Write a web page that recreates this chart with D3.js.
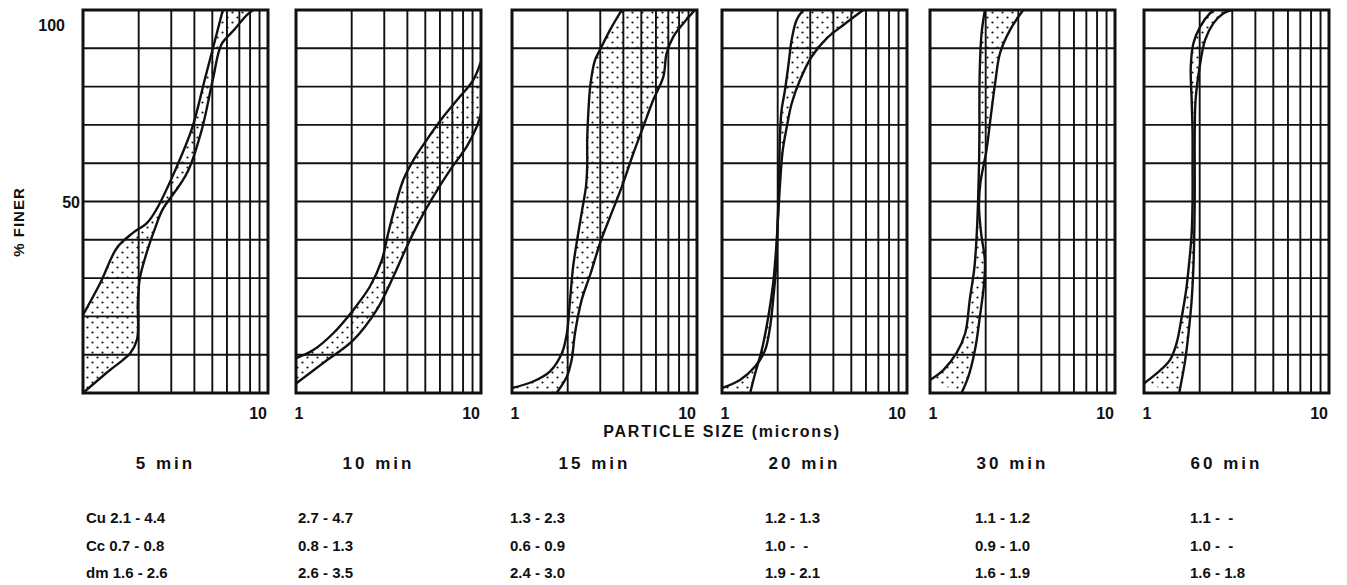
<!DOCTYPE html>
<html>
<head>
<meta charset="utf-8">
<script src="https://cdn.jsdelivr.net/npm/d3@7"></script>
<style>
body { margin: 0; background: #fff; }
text { font-family: "Liberation Sans", Arial, sans-serif; font-weight: bold; fill: #111; white-space: pre; }
</style>
</head>
<body>
<svg width="1347" height="585"></svg>
<script>
// panel titles (sedimentation time)
var titles = ["5 min", "10 min", "15 min", "20 min", "30 min", "60 min"];

// band limits, [particle size (microns), % finer], read bottom to top
var fine5  = [[1,20.4],[1.24,28.7],[1.53,38],[1.86,41.8],[2.22,44.4],[2.5,48],[3.14,58],[3.88,69],[4.56,82],[5.1,91],[5.7,100]];
var coarse5 = [[1,0],[1.4,6],[1.64,8.6],[1.8,10.4],[1.96,14],[1.98,24],[2.03,30],[2.22,37],[2.45,43],[2.7,48],[3.3,54],[3.7,58],[4.4,69],[5.04,82],[5.6,91],[6.47,94.5],[7.7,98.7],[8.3,100]];

var fine10 = [[1,9.1],[1.24,11.2],[1.59,15.6],[2.04,21.7],[2.51,27.8],[2.91,34.7],[3.15,41.7],[3.43,48.6],[3.8,55.6],[4.31,60.8],[5.09,66.1],[6.25,72.1],[7.7,77.4],[9.08,81.7],[10,86.5]];
var coarse10 = [[1,2.5],[1.4,7.8],[2.04,13.8],[2.73,21.7],[3.36,30.4],[3.97,38.2],[4.68,45.2],[5.52,51.3],[6.8,58.2],[8.37,64.3],[9.48,69.5],[10,73]];

var fine15 = [[1,1.3],[1.3,3],[1.6,5.6],[1.86,10.4],[1.98,15.6],[2.06,24.3],[2.14,33],[2.28,41.7],[2.41,48.6],[2.51,53.8],[2.55,59.1],[2.55,66.1],[2.59,73.9],[2.66,80.9],[2.81,86.9],[2.99,89.6],[3.39,94.8],[3.92,100]];
var coarse15 = [[1.74,0],[1.98,4.3],[2.1,8.6],[2.19,15.6],[2.38,24.3],[2.66,31.2],[2.99,39.1],[3.39,46],[3.92,53.8],[4.53,62.6],[5.12,69.5],[5.8,76.5],[6.58,82.6],[6.85,88.7],[7.44,93],[8.43,96.5],[9.75,100]];

var fine20 = [[1,1.3],[1.25,3.4],[1.51,6.9],[1.71,11.2],[1.82,17.3],[1.89,24.3],[1.96,33],[1.99,41.7],[2.02,50.4],[2.04,59.1],[2.06,67.8],[2.1,73.9],[2.19,79.1],[2.28,85.2],[2.38,92.2],[2.53,97.4],[2.75,100]];
var coarse20 = [[1.42,0],[1.51,5.1],[1.64,11.2],[1.78,19.9],[1.89,28.6],[1.96,37.4],[2.01,46],[2.06,54.7],[2.13,63.4],[2.24,69.5],[2.38,75.6],[2.64,81.7],[3.05,87.8],[3.68,92.6],[4.53,96.1],[5.8,100]];

var fine30 = [[1,3.4],[1.18,6],[1.39,10.4],[1.55,15.6],[1.64,24.3],[1.74,33],[1.79,41.7],[1.82,50.4],[1.84,59.1],[1.85,67.8],[1.85,76.5],[1.86,85.2],[1.9,93.9],[1.98,100]];
var coarse30 = [[1.48,0],[1.61,4.2],[1.75,11.2],[1.86,19.9],[1.96,28.6],[1.98,34.7],[1.89,41.7],[1.84,48.6],[1.87,54.7],[2.02,63.4],[2.13,72.2],[2.25,80.9],[2.39,88.7],[2.71,94.8],[3.19,100]];

var fine60 = [[1,2.5],[1.17,5.1],[1.38,8.6],[1.5,13],[1.6,19.9],[1.69,26.9],[1.76,34.7],[1.81,41.7],[1.83,50.4],[1.83,59.1],[1.83,67.8],[1.81,76.5],[1.79,85.2],[1.85,91.3],[2.01,95.6],[2.27,99.1],[2.4,100]];
var coarse60 = [[1.55,0],[1.67,8.6],[1.74,15.6],[1.81,24.3],[1.85,33],[1.87,41.7],[1.88,50.4],[1.88,59.1],[1.88,67.8],[1.9,76.5],[2.0,85.2],[2.14,92.2],[2.37,96.5],[2.68,99.1],[2.98,100]];

// statistics under each panel
var rowNames = ["Cu", "Cc", "dm"];
var cuLow  = [2.1, 2.7, 1.3, 1.2, 1.1, 1.1];
var cuHigh = [4.4, 4.7, 2.3, 1.3, 1.2, null];
var ccLow  = [0.7, 0.8, 0.6, 1.0, 0.9, 1.0];
var ccHigh = [0.8, 1.3, 0.9, null, 1.0, null];
var dmLow  = [1.6, 2.6, 2.4, 1.9, 1.6, 1.6];
var dmHigh = [2.6, 3.5, 3.0, 2.1, 1.9, 1.8];

var gridSizes = [2, 3, 4, 5, 6, 7, 8, 9];
var gridPct = [10, 20, 30, 40, 50, 60, 70, 80, 90];

var panels = [
  {title: titles[0], fine: fine5, coarse: coarse5},
  {title: titles[1], fine: fine10, coarse: coarse10},
  {title: titles[2], fine: fine15, coarse: coarse15},
  {title: titles[3], fine: fine20, coarse: coarse20},
  {title: titles[4], fine: fine30, coarse: coarse30},
  {title: titles[5], fine: fine60, coarse: coarse60}
];

// layout
var panelLeft = [83, 296, 512, 722, 930, 1144];
var statOffset = [3, 2, -2, 43, 45, 46];
var panelW = 185, plotTop = 10, plotBottom = 393;

var svg = d3.select("svg");

// stipple
var pat = svg.append("defs").append("pattern")
  .attr("id", "dots").attr("patternUnits", "userSpaceOnUse")
  .attr("width", 10).attr("height", 10);
pat.append("circle").attr("cx", 2.5).attr("cy", 2.5).attr("r", 1.1).attr("fill", "#111");
pat.append("circle").attr("cx", 7.5).attr("cy", 7.5).attr("r", 1.1).attr("fill", "#111");

var y = d3.scaleLinear().domain([0, 100]).range([plotBottom, plotTop]);

function fmt(lo, hi) {
  return lo.toFixed(1) + " - " + (hi == null ? " -" : hi.toFixed(1));
}

panels.forEach(function (p, i) {
  var x0 = panelLeft[i];
  var x = d3.scaleLog().domain([1, 10]).range([x0, x0 + panelW]);
  var g = svg.append("g");

  g.append("clipPath").attr("id", "clip" + i)
    .append("rect").attr("x", x0).attr("y", plotTop).attr("width", panelW).attr("height", plotBottom - plotTop);

  var line = d3.line()
    .x(function (d) { return x(d[0]); })
    .y(function (d) { return y(d[1]); })
    .curve(d3.curveCatmullRom.alpha(0.5));

  var back = line(p.coarse.slice().reverse());
  g.append("path")
    .attr("d", line(p.fine) + "L" + back.slice(1) + "Z")
    .attr("fill", "url(#dots)")
    .attr("clip-path", "url(#clip" + i + ")");

  // grid
  g.selectAll(".vg").data(gridSizes).enter().append("line")
    .attr("x1", function (d) { return x(d); }).attr("x2", function (d) { return x(d); })
    .attr("y1", plotTop).attr("y2", plotBottom)
    .attr("stroke", "#111").attr("stroke-width", 1.9);
  g.selectAll(".hg").data(gridPct).enter().append("line")
    .attr("x1", x0).attr("x2", x0 + panelW)
    .attr("y1", function (d) { return y(d); }).attr("y2", function (d) { return y(d); })
    .attr("stroke", "#111").attr("stroke-width", 1.9);

  [p.fine, p.coarse].forEach(function (c) {
    g.append("path").attr("d", line(c))
      .attr("fill", "none").attr("stroke", "#111").attr("stroke-width", 2.4)
      .attr("clip-path", "url(#clip" + i + ")");
  });

  g.append("rect").attr("x", x0).attr("y", plotTop).attr("width", panelW).attr("height", plotBottom - plotTop)
    .attr("fill", "none").attr("stroke", "#111").attr("stroke-width", 3);

  // x tick labels
  if (i > 0) g.append("text").attr("x", x(1) + 3).attr("y", 419).attr("text-anchor", "middle")
    .attr("font-size", 16).text("1");
  g.append("text").attr("x", x(10) - 1).attr("y", 419).attr("text-anchor", "end")
    .attr("font-size", 16).text("10");

  g.append("text").attr("x", x0 + panelW / 2 - 10).attr("y", 469).attr("text-anchor", "middle")
    .attr("font-size", 17).attr("letter-spacing", 3).text(p.title);

  var sx = x0 + statOffset[i];
  var rows = [fmt(cuLow[i], cuHigh[i]), fmt(ccLow[i], ccHigh[i]), fmt(dmLow[i], dmHigh[i])];
  rows.forEach(function (r, k) {
    g.append("text").attr("x", sx).attr("y", 523 + k * 27.5)
      .attr("font-size", 15).text(i == 0 ? rowNames[k] + " " + r : r);
  });
});

// y axis
svg.append("text").attr("x", 65).attr("y", y(100) + 21).attr("text-anchor", "end")
  .attr("font-size", 16).text("100");
svg.append("text").attr("x", 80).attr("y", y(50) + 6).attr("text-anchor", "end")
  .attr("font-size", 16).text("50");
svg.append("text").attr("transform", "translate(24,222) rotate(-90)")
  .attr("text-anchor", "middle").attr("font-size", 15).attr("letter-spacing", 1).text("% FINER");

svg.append("text").attr("x", 722).attr("y", 437).attr("text-anchor", "middle")
  .attr("font-size", 16).attr("letter-spacing", 1.8).text("PARTICLE SIZE (microns)");
</script>
</body>
</html>
